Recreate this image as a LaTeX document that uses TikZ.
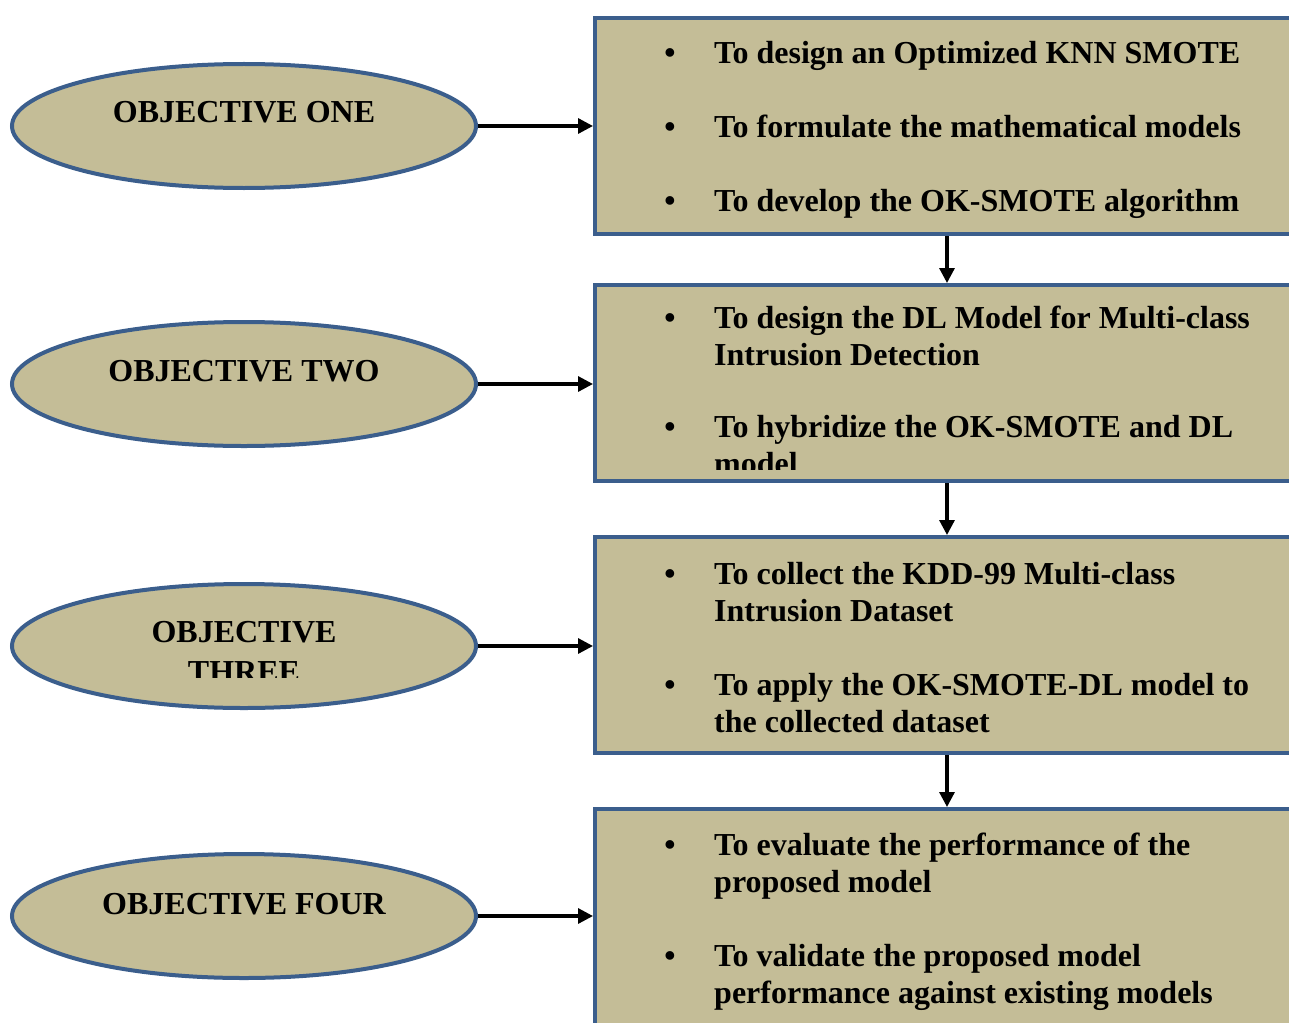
\documentclass[tikz,border=0pt]{standalone}
\usepackage{fontspec}
\setmainfont{Liberation Serif}
\usetikzlibrary{shapes.geometric,arrows.meta}
\definecolor{tanfill}{HTML}{C4BD97}
\definecolor{edgeblue}{HTML}{3B5E8C}
\begin{document}
\begin{tikzpicture}[x=1pt,y=-1pt,
  obj/.style={ellipse, draw=edgeblue, line width=4pt, fill=tanfill, minimum width=464pt, minimum height=124pt, inner sep=0pt},
  goalbox/.style={rectangle, draw=edgeblue, line width=4pt, fill=tanfill, inner sep=0pt, minimum width=704pt},
  lbl/.style={font=\bfseries\fontsize{32}{40}\selectfont, anchor=base, inner sep=0pt},
  item/.style={font=\bfseries\fontsize{32}{37}\selectfont, anchor=base west, inner sep=0pt},
  bul/.style={font=\bfseries\fontsize{32}{37}\selectfont, anchor=base, inner sep=0pt},
  arr/.style={line width=3.2pt, -{Triangle[length=15pt,width=15pt]}}]
\useasboundingbox (0,0) rectangle (1289,1022);
\fill[white] (0,0) rectangle (1289,1022);

% ellipses
\node[obj] (e1) at (244,126) {};
\node[obj] (e2) at (244,384) {};
\node[obj] (e3) at (244,646) {};
\node[obj] (e4) at (244,916) {};

\node[lbl] (t1) at (244,123) {OBJECTIVE ONE};
\node[lbl] (t2) at (244,381) {OBJECTIVE TWO};
\begin{scope}
\clip (0,560) rectangle (480,677);
\node[lbl] (t3) at (244,642) {\parbox[t]{400pt}{\centering OBJECTIVE\\THREE}};
\end{scope}
\node[lbl] (t4) at (244,914) {OBJECTIVE FOUR};

% boxes
\node[goalbox, minimum height=216pt] (b1) at (947,126) {};
\node[goalbox, minimum height=196pt] (b2) at (947,383) {};
\node[goalbox, minimum height=216pt] (b3) at (947,645) {};
\node[goalbox, minimum height=251pt] (b4) at (947,934.5) {};

% box 1 items
\node[bul] (u11) at (670,64) {•};
\node[item] (i11) at (714,64) {To design an Optimized KNN SMOTE};
\node[bul] (u12) at (670,137) {•};
\node[item] (i12) at (714,137) {To formulate the mathematical models};
\node[bul] (u13) at (670,211) {•};
\node[item] (i13) at (714,211) {To develop the OK-SMOTE algorithm};

% box 2 items
\node[bul] (u21) at (670,328) {•};
\node[item] (i21) at (714,328) {\parbox[t]{580pt}{To design the DL Model for Multi-class\\Intrusion Detection}};
\node[bul] (u22) at (670,437) {•};
\begin{scope}
\clip (600,400) rectangle (1289,469);
\node[item] (i22) at (714,437) {\parbox[t]{580pt}{To hybridize the OK-SMOTE and DL\\model}};
\end{scope}

% box 3 items
\node[bul] (u31) at (670,584) {•};
\node[item] (i31) at (714,584) {\parbox[t]{580pt}{To collect the KDD-99 Multi-class\\Intrusion Dataset}};
\node[bul] (u32) at (670,695) {•};
\node[item] (i32) at (714,695) {\parbox[t]{580pt}{To apply the OK-SMOTE-DL model to\\the collected dataset}};

% box 4 items
\node[bul] (u41) at (670,855) {•};
\node[item] (i41) at (714,855) {\parbox[t]{580pt}{To evaluate the performance of the\\proposed model}};
\node[bul] (u42) at (670,966) {•};
\node[item] (i42) at (714,966) {\parbox[t]{580pt}{To validate the proposed model\\performance against existing models}};

% connectors
\draw[arr] (e1.east) -- (e1.east -| b1.west);
\draw[arr] (e2.east) -- (e2.east -| b2.west);
\draw[arr] (e3.east) -- (e3.east -| b3.west);
\draw[arr] (e4.east) -- (e4.east -| b4.west);
\draw[arr] (b1.south) -- (b2.north);
\draw[arr] (b2.south) -- (b3.north);
\draw[arr] (b3.south) -- (b4.north);
\end{tikzpicture}
\end{document}
